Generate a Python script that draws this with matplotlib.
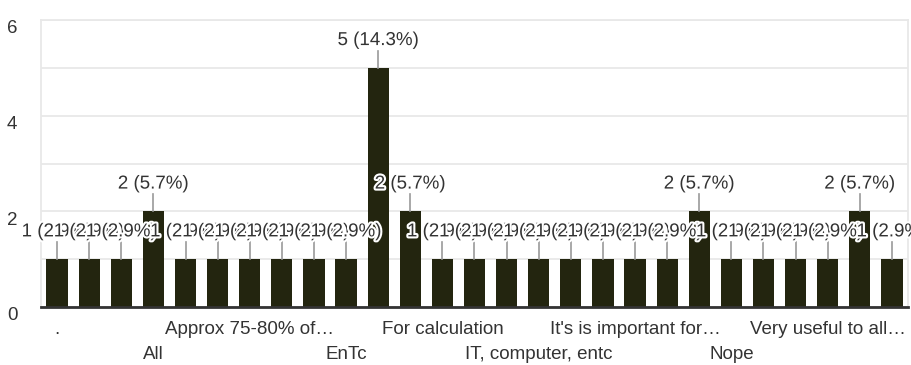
import matplotlib.pyplot as plt
import matplotlib.patheffects as pe
from matplotlib.transforms import ScaledTranslation

# Responses per answer (27 answers, only every third one has a tick label)
counts = [1, 1, 1, 2, 1, 1, 1, 1, 1, 1, 5, 2, 1, 1, 1, 1, 1, 1, 1, 1, 2, 1, 1, 1, 1, 2, 1]
tick_labels = ['.', 'All', 'Approx 75-80% of…', 'EnTc', 'For calculation',
               'IT, computer, entc', "It's is important for…", 'Nope', 'Very useful to all…']
label_step = 3

total = sum(counts)
bar_color = '#23250f'
text_color = '#333333'
fs = 13.5

plt.rcParams['font.family'] = ['Liberation Sans', 'DejaVu Sans']

fig = plt.figure(figsize=(9.11, 3.65), dpi=100)
ax = fig.add_axes([41 / 911, 58 / 365, 867 / 911, 287 / 365])

x = list(range(len(counts)))
ax.bar(x, counts, width=0.66, color=bar_color, zorder=2)

# leader lines and value labels, drawn left to right so later ones sit on top
for i, v in enumerate(counts):
    ax.plot([i, i], [v, v + 0.36], color='#999999', lw=1.2, zorder=3)
for i, v in enumerate(counts):
    ax.text(i, v + 0.57, f'{v} ({v / total * 100:.1f}%)', ha='center', va='center',
            fontsize=fs, color=text_color, zorder=4, clip_on=False,
            path_effects=[pe.withStroke(linewidth=3, foreground='white')])

ax.set_xlim(-0.5, len(counts) - 0.5)
ax.set_ylim(0, 6)
ax.set_yticks([0, 2, 4, 6])
ax.set_yticks(range(7), minor=True)
ax.grid(axis='y', which='both', color='#e8e8e8', lw=1.3, zorder=0)
ax.tick_params(axis='y', which='both', length=0, pad=17, labelsize=fs, labelcolor=text_color)
shift = ScaledTranslation(0, -5 / 72, fig.dpi_scale_trans)
for lbl in ax.get_yticklabels():
    lbl.set_transform(lbl.get_transform() + shift)

positions = x[::label_step]
labels = [t if k % 2 == 0 else '\n' + t for k, t in enumerate(tick_labels)]
ax.set_xticks(positions)
ax.set_xticklabels(labels, linespacing=1.65)
ax.tick_params(axis='x', length=0, pad=10, labelsize=fs, labelcolor=text_color)

for side in ['left', 'right', 'top']:
    ax.spines[side].set_color('#e8e8e8')
    ax.spines[side].set_linewidth(1.3)
ax.spines['bottom'].set_color('#333333')
ax.spines['bottom'].set_linewidth(2)
ax.spines['bottom'].set_zorder(5)

plt.savefig('out.png', dpi=100)
